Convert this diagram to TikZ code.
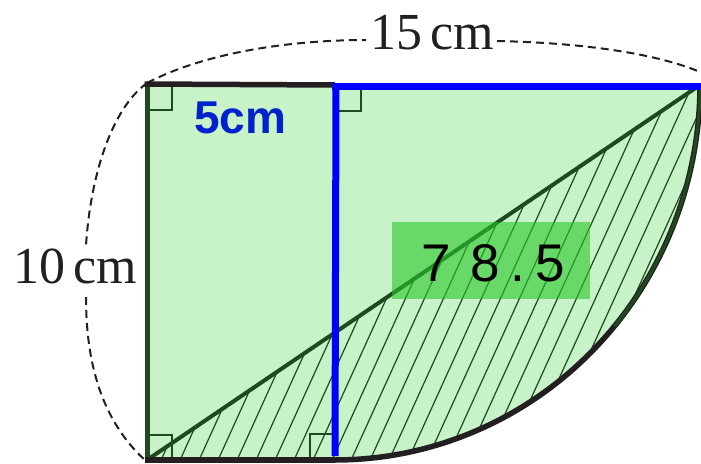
\documentclass[tikz,border=0pt]{standalone}
\usepackage{fontspec}
\setmainfont{Liberation Serif}
\newfontfamily\sansf{Liberation Sans}
\definecolor{lgreen}{HTML}{C8F2C8}
\definecolor{dgreen}{HTML}{1E4A1E}
\definecolor{edgeblack}{HTML}{231F20}
\definecolor{myblue}{HTML}{0000FF}
\definecolor{lblblue}{HTML}{0022CC}
\definecolor{boxgreen}{RGB}{40,200,40}
\tikzset{
  hatch/.style={draw=dgreen, line width=1.2pt},
  diag/.style={draw=dgreen, line width=4pt},
  rmark/.style={draw=dgreen, line width=1.8pt},
  blueline/.style={draw=myblue, line width=7pt},
  blackedge/.style={draw=edgeblack, line width=5.5pt},
  dimline/.style={draw=edgeblack, line width=2pt, dash pattern=on 8pt off 5pt},
  dimlabel/.style={font=\fontsize{52}{52}\selectfont, text=edgeblack, inner sep=0pt},
  digit/.style={font=\sansf\fontsize{53}{53}\selectfont, text=black, inner sep=0pt, anchor=base}
}
\begin{document}
\begin{tikzpicture}[x=1pt,y=-1pt]
\useasboundingbox (0,0) rectangle (701,463);
\coordinate (TL) at (147,85);
\coordinate (TM) at (335,85);
\coordinate (TR) at (700,85);
\coordinate (BL) at (147,460);
\coordinate (BM) at (335,460);
\coordinate (BMb) at (335,456);
% fill
\fill[lgreen] (BL) -- (BM) -- plot[domain=90:0, samples=80] ({335+365*cos(\x)},{85+375*sin(\x)}) -- (TR) -- (TM) -- (TL) -- cycle;
% hatching
\begin{scope}
\clip (BL) -- (BM) -- plot[domain=90:0, samples=80] ({335+365*cos(\x)},{85+375*sin(\x)}) -- (TR) -- cycle;
\foreach \i in {-20,...,40} \draw[hatch] ({\i*19},480) -- ({\i*19+218},0);
\end{scope}
% diagonal
\draw[diag] (BL) -- (TR);
% right-angle marks
\draw[rmark] (147,110) -- (172,110) -- (172,85);
\draw[rmark] (335,111) -- (361,111) -- (361,85);
\draw[rmark] (147,435) -- (172,435) -- (172,460);
\draw[rmark] (310,460) -- (310,434) -- (335,434);
% edges
\draw[draw=dgreen, line width=5pt] (147,83) -- (147,462);
\draw[blackedge] (144.5,84) -- (TM);
\draw[blackedge] (144.5,460) -- (BM);
\draw[draw=edgeblack, line width=5.5pt] (BM) -- plot[domain=90:0, samples=80] ({335+365*cos(\x)},{85+375*sin(\x)});
\draw[draw=dgreen, line width=3pt] plot[domain=40:0, samples=40] ({335+365*cos(\x)},{85+375*sin(\x)});
\draw[blueline] (332,86) -- (701,86);
\draw[blueline] (336,86) -- (BMb);
% label box
\node[fill=boxgreen, fill opacity=0.6, inner sep=0pt, minimum width=198pt, minimum height=77pt] (box) at (491,260) {};
\node[digit] (d1) at (436,281) {7};
\node[digit] (d2) at (485,281) {8};
\node[digit] (d3) at (518,281) {.};
\node[digit] (d4) at (550,281) {5};
% 5cm
\node[font=\sansf\bfseries\fontsize{46}{46}\selectfont, text=lblblue, inner sep=0pt, anchor=base west] (five) at (194,133) {5cm};
% dimension labels
\node[dimlabel, anchor=base west] (l15) at (370,49) {15\,cm};
\node[dimlabel, anchor=base west] (l10) at (13,283) {10\,cm};
% dashed dimension curves
\draw[dimline] (147,83) .. controls (210,50) and (300,40) .. (366,40);
\draw[dimline] (497,41) .. controls (590,43) and (660,55) .. (700,72);
\draw[dimline] (147,83) .. controls (110,110) and (90,180) .. (86,246);
\draw[dimline] (86,297) .. controls (86,360) and (100,420) .. (147,462);
\end{tikzpicture}
\end{document}
